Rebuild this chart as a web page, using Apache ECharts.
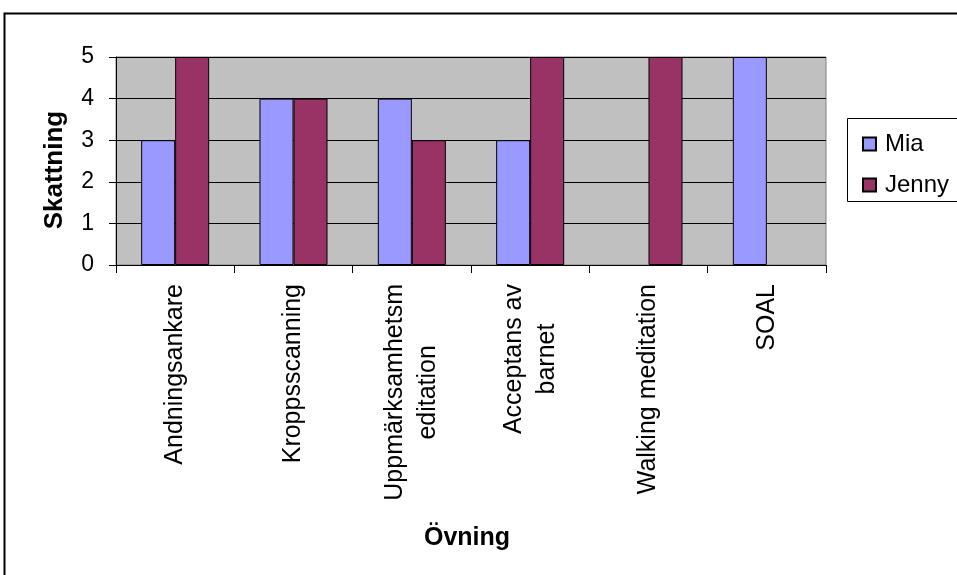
<!DOCTYPE html>
<html>
<head>
<meta charset="utf-8">
<script src="https://cdn.jsdelivr.net/npm/echarts@6/dist/echarts.min.js"></script>
<style>
  html, body { margin: 0; padding: 0; background: #fff; }
  #chart { width: 957px; height: 575px; }
</style>
</head>
<body>
<div id="chart"></div>
<script>
const categories = [
  'Andningsankare',
  'Kroppsscanning',
  'Uppmärksamhetsm\neditation',
  'Acceptans av\nbarnet',
  'Walking meditation',
  'SOAL',
];
const miaValues = [3, 4, 4, 3, null, 5];
const jennyValues = [5, 4, 3, 5, 5, null];
const yTicks = [0, 1, 2, 3, 4, 5];

const FONT = '"Liberation Sans", Arial, sans-serif';

const chart = echarts.init(document.getElementById('chart'), null, { renderer: 'canvas' });

const option = {
  animation: false,
  backgroundColor: '#fff',
  textStyle: { fontFamily: FONT, color: '#000' },
  graphic: [
    {
      // outer chart frame
      type: 'rect',
      shape: { x: 4.5, y: 13.5, width: 1000, height: 700 },
      style: { fill: 'none', stroke: '#000', lineWidth: 2 },
      z: 0,
    },
    {
      // legend box
      type: 'rect',
      shape: { x: 847.5, y: 118.5, width: 200, height: 83 },
      style: { fill: '#fff', stroke: '#000', lineWidth: 1 },
      z: 1,
    },
    {
      // y axis title
      type: 'text',
      x: 55,
      y: 170,
      rotation: Math.PI / 2,
      style: {
        text: 'Skattning',
        fontFamily: FONT,
        fontSize: 26,
        fontWeight: 'bold',
        fill: '#000',
        align: 'center',
        verticalAlign: 'middle',
      },
      z: 5,
    },
    {
      // x axis title
      type: 'text',
      x: 467,
      y: 538,
      style: {
        text: 'Övning',
        fontFamily: FONT,
        fontSize: 25,
        fontWeight: 'bold',
        fill: '#000',
        align: 'center',
        verticalAlign: 'middle',
      },
      z: 5,
    },
  ],
  grid: {
    left: 116,
    right: 131,
    top: 57,
    bottom: 310,
    show: true,
    backgroundColor: '#C0C0C0',
    borderColor: '#808080',
    borderWidth: 1,
  },
  legend: {
    orient: 'vertical',
    left: 857,
    top: 127,
    itemWidth: 13,
    itemHeight: 13,
    itemGap: 17,
    icon: 'rect',
    z: 5,
    textStyle: { fontFamily: FONT, fontSize: 24, color: '#000', lineHeight: 24, padding: [0, 0, 0, 4] },
    data: ['Mia', 'Jenny'],
  },
  xAxis: {
    type: 'category',
    data: categories,
    axisLine: { lineStyle: { color: '#000', width: 1 } },
    axisTick: { show: true, alignWithLabel: false, length: 8, lineStyle: { color: '#000' } },
    axisLabel: {
      interval: 0,
      rotate: 90,
      margin: 19,
      fontFamily: FONT,
      fontSize: 25,
      color: '#000',
      formatter: (v) => v.split('\n').map((s) => '{c|' + s + '}').join('\n'),
      rich: { c: { align: 'center', fontFamily: FONT, fontSize: 25, color: '#000', lineHeight: 33 } },
    },
    splitLine: { show: false },
  },
  yAxis: {
    type: 'value',
    min: yTicks[0],
    max: yTicks[yTicks.length - 1],
    interval: 1,
    axisLine: { show: true, lineStyle: { color: '#000', width: 1 } },
    axisTick: { show: true, length: 7, lineStyle: { color: '#000' } },
    axisLabel: { margin: 22, fontFamily: FONT, fontSize: 23, color: '#000' },
    splitLine: { show: true, lineStyle: { color: '#000', width: 1 } },
  },
  series: [
    {
      name: 'Mia',
      type: 'bar',
      data: miaValues,
      barWidth: 34,
      barGap: '0%',
      itemStyle: { color: '#9999FF', borderColor: '#000', borderWidth: 1 },
    },
    {
      name: 'Jenny',
      type: 'bar',
      data: jennyValues,
      barWidth: 34,
      barGap: '0%',
      itemStyle: { color: '#993366', borderColor: '#000', borderWidth: 1 },
    },
  ],
};

chart.setOption(option);
</script>
</body>
</html>
